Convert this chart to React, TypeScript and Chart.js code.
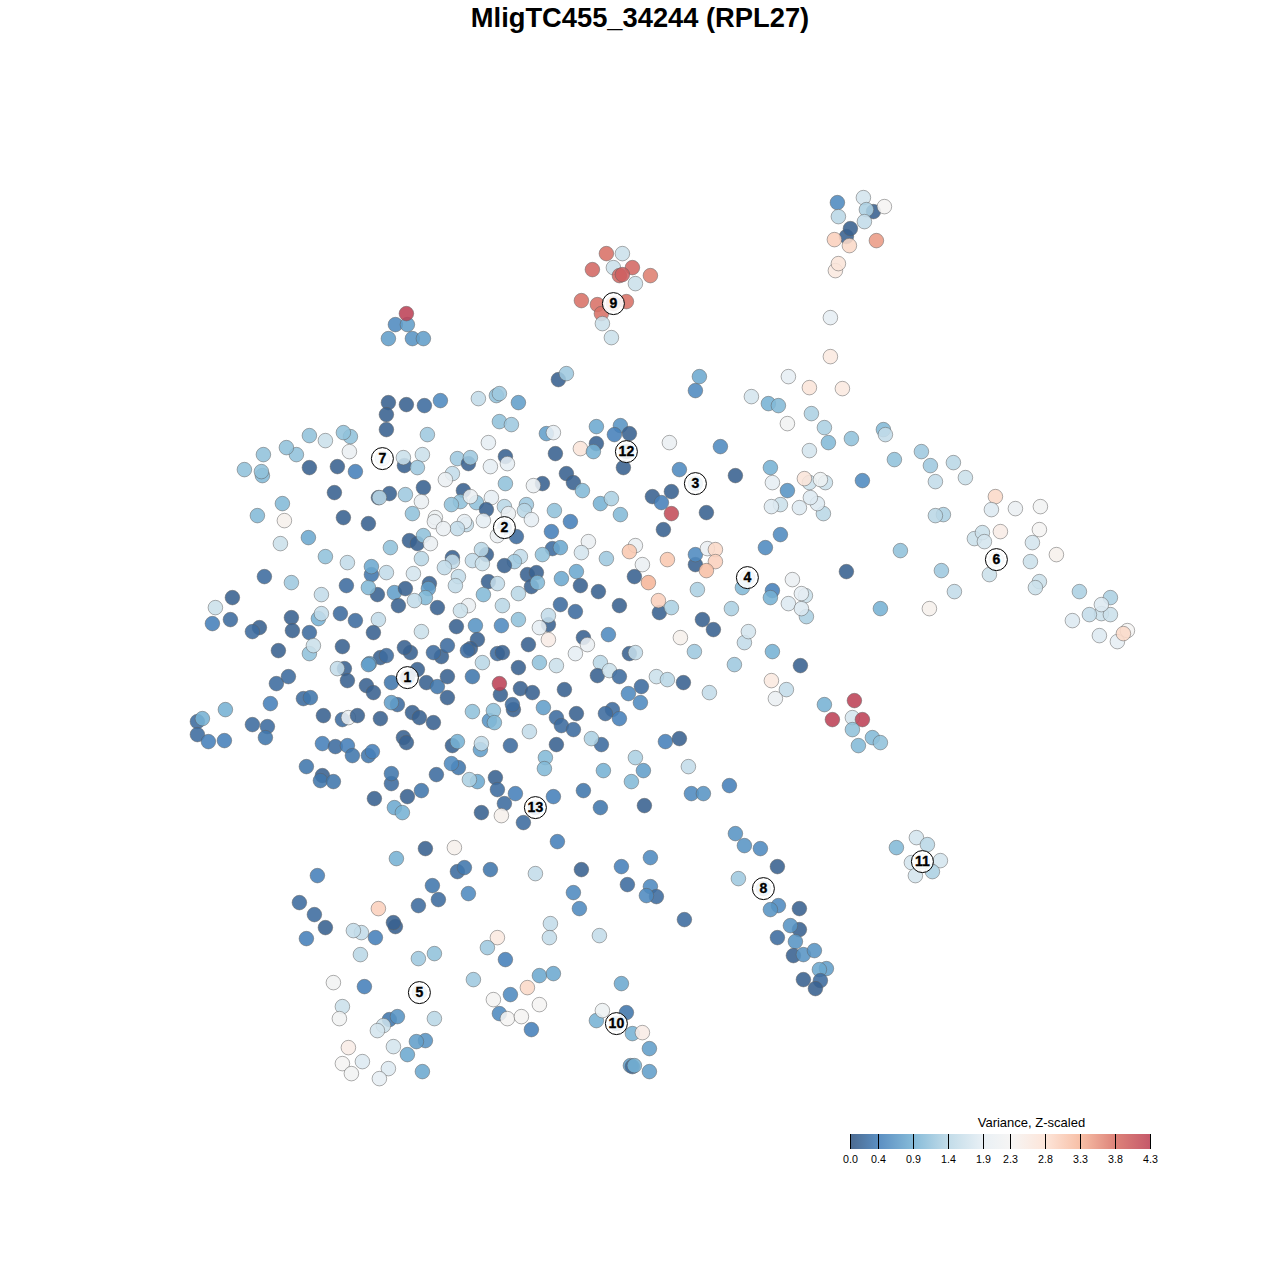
import React, { useEffect, useRef } from "react";
import { Chart, registerables } from "chart.js";

Chart.register(...registerables);

type P = [number, number, number];

const chartTitle = "MligTC455_34244 (RPL27)";
const legendTitle = "Variance, Z-scaled";
const legendTicks = [0.0, 0.4, 0.9, 1.4, 1.9, 2.3, 2.8, 3.3, 3.8, 4.3];
const legendColors = ["#4c6b91", "#5b8fc2", "#86bbd9", "#c2dce9", "#e9f0f5", "#f6f5f4", "#fde5d9", "#f7bfa6", "#dd8279", "#c5596a"];

const clusterLabels: P[] = [
  [407, 677, 1], [504, 527, 2], [695, 483, 3], [747, 577, 4], [419, 992, 5], [996, 559, 6], [382, 458, 7],
  [763, 888, 8], [613, 303, 9], [616, 1023, 10], [922, 861, 11], [626, 451, 12], [535, 807, 13],
];

const underLabels: P[] = [
  [407, 677, 0.1], [504, 527, 0.3], [695, 483, 0.8], [747, 577, 1.2], [419, 992, 1.0], [996, 559, 1.7], [382, 458, 1.4],
  [763, 888, 0.7], [613, 303, 3.8], [616, 1023, 0.6], [922, 861, 1.6], [626, 451, 0.2], [535, 807, 0.4],
];

const upperLeft: P[] = [
  [388,402,0.1],[406,404,0.1],[424,405,0.2],[440,400,0.5],[386,414,0.1],[386,429,0.1],[427,434,1.2],
  [350,436,1.1],[309,435,1.1],[325,440,1.6],[343,432,1.1],[349,451,2.0],[263,454,1.1],[296,454,1.1],[286,447,1.1],
  [244,469,1.1],[262,475,1.0],[261,471,1.1],[309,467,0.1],[337,466,0.1],[355,471,0.4],[404,465,0.1],[403,457,1.6],
  [422,454,1.6],[417,467,1.2],[334,492,0.1],[389,493,0.1],[378,497,0.1],[379,497,1.4],[405,494,1.2],[423,487,0.1],[421,501,2.0],
  [282,503,1.0],[257,515,1.0],[284,520,2.4],[343,517,0.1],[368,523,0.1],[412,513,1.1],[435,517,2.1],[434,521,2.0],
  [280,543,1.6],[308,537,0.8],[390,547,1.1],[409,540,0.1],[417,543,0.1],[423,535,1.1],[430,543,2.0],[421,558,1.4],
  [325,556,1.1],[347,562,1.5],[371,574,0.3],[371,566,0.8],[386,572,1.5],[413,573,1.7],[264,576,0.2],[291,582,1.2],
  [346,585,0.2],[377,594,0.1],[368,587,1.0],[394,592,0.7],[405,588,0.1],[429,583,0.1],[428,588,0.7],[425,597,1.0],[414,600,1.5],
  [398,605,0.1],[437,607,0.1],[232,597,0.1],[215,607,1.6],[212,623,0.4],[230,619,0.2],[259,627,0.1],[252,631,0.2],
  [291,617,0.1],[292,630,0.1],[340,613,0.2],[355,620,0.2],[378,619,1.5],[318,618,0.9],[321,594,1.5],[321,613,1.5],[309,632,0.2],
  [373,632,0.1],[421,631,1.6],[278,650,0.1],[309,653,1.1],[313,645,1.6],[342,646,0.1],[380,657,0.1],[386,655,0.2],[410,652,0.1],[404,647,0.1],
  [441,656,0.1],[433,652,0.2],[447,645,0.2],[369,663,0.7],
];

const upperMiddle: P[] = [
  [558,379,0.1],[566,373,1.2],[478,398,1.5],[496,395,1.1],[499,393,1.2],[518,402,0.7],[499,421,1.1],[511,424,1.2],[488,442,1.9],
  [546,433,0.7],[553,432,1.9],[555,453,0.1],[596,426,0.8],[620,425,0.6],[614,434,0.4],[629,433,0.1],[596,443,0.1],[580,448,2.7],[593,451,0.9],
  [623,467,0.1],[669,442,2.0],[695,390,0.5],[699,376,0.8],[720,446,0.5],[679,469,0.5],[457,458,1.2],[468,463,0.1],[470,457,1.2],
  [505,456,0.1],[507,463,1.9],[490,466,1.9],[452,473,1.5],[445,479,2.0],[505,483,1.1],[542,483,0.1],[533,485,2.0],[566,473,0.1],[573,482,0.1],[582,490,1.0],
  [463,490,0.1],[460,501,1.1],[451,504,1.1],[476,502,1.1],[470,496,2.0],[491,497,1.9],[486,509,0.1],[504,506,1.4],[508,513,2.0],[526,504,1.2],[524,510,1.4],
  [531,519,1.9],[554,510,1.1],[570,521,0.4],[600,503,0.9],[611,498,1.3],[620,514,1.0],[652,496,0.1],[671,491,0.1],[661,502,0.4],[671,513,4.2],[706,512,0.1],[663,529,0.1],
  [483,520,1.9],[466,524,1.5],[464,521,1.9],[457,528,1.5],[443,528,2.0],[497,535,2.0],[516,536,0.2],[551,531,0.4],[588,541,2.0],[581,552,1.7],[552,548,0.2],[560,547,0.8],[542,554,1.1],
  [520,556,1.5],[514,561,1.2],[504,565,0.1],[486,554,0.1],[481,549,1.4],[452,557,0.1],[452,561,1.5],[472,560,1.5],[482,563,1.6],[444,567,1.5],[458,576,1.5],[455,585,1.5],
  [488,581,0.1],[497,583,1.5],[483,594,1.0],[518,593,1.4],[527,574,0.1],[536,572,0.1],[531,586,0.1],[537,582,1.0],[561,578,0.8],[576,571,0.8],[580,585,0.1],[606,558,1.2],[598,591,0.1],
  [635,545,2.0],[629,551,3.1],[642,564,2.0],[667,559,3.1],[634,576,0.1],[648,582,3.3],[659,612,0.1],[658,600,3.0],[671,607,1.3],[695,564,0.1],[695,554,0.5],[707,548,2.0],[715,549,2.9],[715,561,3.0],[706,570,3.2],
  [697,589,1.3],[702,619,0.1],[713,629,0.1],[680,637,2.4],[694,651,1.2],[619,605,0.1],[560,604,0.2],[575,611,0.2],[502,605,1.4],[468,605,2.0],[460,610,1.6],
  [456,626,0.1],[475,625,0.6],[501,625,0.5],[518,619,1.1],[548,624,0.1],[548,615,1.5],[539,627,1.9],[548,639,2.5],[528,644,0.1],[477,639,0.1],[470,648,0.1],[467,650,0.2],[497,653,0.2],[502,652,0.1],
  [608,634,0.5],[583,637,0.1],[587,644,2.0],[575,653,1.9],[629,653,0.1],[635,652,1.5],
];

const lowerLeft: P[] = [
  [197,721,0.2],[202,718,0.9],[197,734,0.2],[208,741,0.4],[224,740,0.4],[225,709,0.9],[252,724,0.2],[267,726,0.2],[265,737,0.3],[270,703,0.4],[276,683,0.2],[288,676,0.2],
  [303,698,0.2],[310,697,0.3],[323,715,0.1],[342,719,0.2],[348,717,2.0],[357,715,0.1],[380,718,0.1],[344,668,0.1],[337,668,1.5],[347,680,0.1],[366,685,0.1],[373,692,0.1],[368,664,0.7],
  [391,682,0.3],[397,704,0.2],[391,702,0.7],[412,712,0.1],[419,717,0.1],[433,722,0.1],[417,669,0.1],[426,682,0.1],[437,686,0.3],[447,676,0.1],[447,697,0.1],
  [322,743,0.4],[335,746,0.2],[347,745,0.4],[352,755,0.3],[368,755,0.3],[372,751,0.4],[403,737,0.1],[406,742,0.1],[452,745,0.1],[457,741,0.9],
  [458,767,0.3],[451,763,0.5],[436,774,0.2],[391,783,0.2],[391,773,0.3],[306,766,0.3],[322,775,0.1],[320,780,0.3],[333,781,0.3],[421,790,0.3],[407,796,0.1],[374,798,0.1],[394,807,0.8],[402,812,0.9],
];

const lowerMiddle: P[] = [
  [518,667,0.1],[539,662,1.1],[556,665,1.6],[482,662,1.4],[472,676,0.3],[500,694,0.1],[499,683,4.3],[520,688,0.1],[532,692,0.1],[564,689,0.1],
  [600,662,1.4],[597,675,0.1],[609,670,1.6],[619,676,0.2],[656,676,1.6],[667,679,1.4],[683,682,0.1],[641,686,0.2],[628,693,0.5],[640,702,0.5],[709,692,1.5],
  [472,711,1.1],[489,720,0.6],[493,710,1.1],[494,722,1.0],[513,709,0.1],[512,704,0.2],[543,707,0.7],[556,717,0.2],[561,725,0.2],[576,713,0.1],[573,729,0.2],[612,709,0.2],[605,713,0.2],[619,718,0.4],
  [529,731,1.5],[601,744,0.2],[591,738,1.3],[556,744,0.1],[510,745,0.2],[480,749,0.7],[481,743,1.5],[665,741,0.4],[679,738,0.1],[545,757,1.0],[544,768,1.0],[635,757,1.3],[643,770,0.7],[631,781,1.0],[603,770,0.9],[688,766,1.5],
  [477,781,0.8],[469,779,1.3],[495,777,0.1],[497,789,0.2],[515,793,0.4],[504,803,0.2],[481,812,0.1],[501,815,2.4],[523,822,0.2],[553,796,0.4],[583,790,0.3],[600,807,0.3],[644,805,0.1],[691,793,0.5],[703,793,0.6],[729,785,0.4],[557,841,0.4],
];

const topClusters: P[] = [
  [395,324,0.5],[407,324,0.7],[406,313,4.3],[388,338,0.7],[412,338,0.6],[423,338,0.7],
  [606,253,3.8],[622,253,1.6],[592,269,3.9],[613,267,1.6],[632,267,3.9],[619,275,3.9],[622,274,4.0],[650,275,3.7],[635,283,1.6],[581,300,3.8],[597,304,3.8],[626,301,3.8],[601,313,3.8],[602,323,1.6],[611,337,1.6],
  [837,202,0.5],[863,197,1.7],[873,211,0.1],[866,209,1.3],[884,206,2.3],[838,216,1.4],[864,221,1.5],[846,236,0.1],[850,228,0.1],[834,239,3.0],[849,245,2.9],[876,240,3.5],[835,270,2.6],[838,263,2.7],[830,317,1.9],[830,356,2.6],
];

const rightArm: P[] = [
  [788,376,1.9],[809,387,2.7],[842,388,2.6],[751,396,1.7],[768,403,0.9],[778,405,1.0],[811,413,1.3],[787,423,2.2],[824,427,1.3],[828,442,1.0],[851,438,1.1],[883,429,1.0],[885,434,1.5],[809,450,1.7],
  [894,459,1.1],[921,451,1.2],[930,465,1.2],[953,462,1.4],[935,481,1.5],[965,477,1.6],[770,467,0.9],[735,475,0.1],[772,482,1.9],[809,482,1.6],[825,482,1.6],[804,478,2.7],[820,479,2.1],[862,480,0.5],[787,490,0.6],
  [823,513,1.4],[817,503,1.8],[810,497,1.8],[780,504,1.6],[771,506,1.8],[799,507,1.8],[943,514,1.3],[935,515,1.4],[780,534,0.5],[765,547,0.5],[900,550,1.1],[846,571,0.1],[941,570,1.2],
  [995,496,2.9],[991,509,1.8],[1015,508,2.0],[1040,506,2.2],[974,538,1.6],[982,532,1.6],[984,541,1.7],[1000,531,2.5],[1039,529,2.3],[1032,542,1.7],[1056,554,2.4],[1030,561,1.6],[989,574,1.6],[1039,581,1.6],[1035,587,1.6],
  [954,591,1.5],[929,608,2.4],[1079,591,1.3],[1110,597,1.3],[1101,613,1.6],[1089,614,1.5],[1110,614,1.6],[1101,604,1.8],[1072,620,1.8],[1099,635,1.8],[1127,630,2.3],[1117,641,1.9],[1123,633,2.9],
];

const midRight: P[] = [
  [742,587,1.0],[772,590,0.4],[770,597,0.9],[792,579,2.0],[806,616,1.3],[805,595,1.6],[801,593,1.9],[788,603,1.8],[801,608,1.8],[731,608,1.3],[880,608,0.9],
  [744,642,1.5],[748,631,1.7],[772,651,0.9],[734,664,1.2],[800,665,0.1],[771,680,2.6],[786,689,1.5],[775,698,2.0],[824,704,0.9],[854,700,4.3],[852,717,1.7],[832,719,4.3],[862,719,4.3],[852,729,1.1],[872,737,1.0],[880,742,1.1],[858,745,1.0],
];

const bottomLeft: P[] = [
  [425,848,0.1],[396,858,0.9],[454,847,2.4],[317,875,0.4],[457,871,0.2],[464,867,0.3],[490,869,0.3],[535,873,1.5],[432,885,0.3],[438,899,0.2],[468,893,0.5],[418,905,0.2],[299,902,0.2],[314,914,0.2],[325,927,0.1],[306,938,0.4],
  [378,908,3.0],[395,926,0.1],[393,922,0.1],[361,932,1.5],[353,930,1.5],[375,937,0.4],[360,954,1.4],[418,958,1.2],[434,953,1.1],[333,982,2.2],[364,986,0.4],[342,1006,1.6],[339,1018,2.2],[389,1019,0.3],[397,1016,0.6],[383,1025,1.6],[377,1030,1.7],[434,1018,1.4],
  [425,1040,0.6],[416,1041,0.7],[393,1046,1.7],[348,1047,2.5],[407,1054,0.8],[342,1063,2.3],[362,1061,1.8],[388,1068,1.8],[351,1073,2.2],[379,1078,1.9],[422,1071,0.8],
];

const bottomMiddle: P[] = [
  [550,923,1.5],[549,937,1.5],[497,937,2.6],[487,947,1.2],[505,959,0.4],[473,979,1.2],[539,975,0.8],[553,973,0.8],[527,987,2.9],[510,994,0.5],[493,999,2.3],[539,1004,2.3],[499,1013,0.5],[507,1018,2.3],[521,1016,2.3],[531,1029,0.4],
  [650,857,0.5],[621,866,0.4],[581,869,0.1],[627,884,0.2],[650,886,0.5],[656,896,0.2],[646,895,0.5],[573,892,0.5],[579,908,0.5],[684,919,0.2],[599,935,1.5],[621,983,0.8],[626,1012,0.3],[596,1020,0.9],[602,1010,2.1],[632,1033,0.9],[642,1032,2.5],[649,1048,0.7],[630,1065,0.7],[632,1066,0.2],[634,1065,0.9],[649,1071,0.7],
];

const lowerRight: P[] = [
  [735,833,0.6],[744,845,0.6],[760,848,0.5],[777,866,0.1],[738,878,1.2],[778,905,0.5],[770,909,0.6],[799,908,0.1],[799,929,0.1],[790,925,0.6],[777,937,0.2],[795,941,0.6],[793,955,0.1],[803,954,0.6],[814,950,0.6],[826,968,0.7],[819,969,0.8],[820,980,0.2],[803,979,0.1],[815,988,0.1],
  [896,847,1.0],[916,837,1.7],[927,844,1.4],[911,862,1.7],[940,860,1.7],[932,871,1.3],[915,875,1.7],
];

const points: P[] = [
  ...underLabels, ...upperLeft, ...upperMiddle, ...lowerLeft, ...lowerMiddle,
  ...topClusters, ...rightArm, ...midRight, ...bottomLeft, ...bottomMiddle, ...lowerRight,
];

const ALPHA = 0.88;

function hex(c: string): number[] {
  return [1, 3, 5].map((i) => parseInt(c.slice(i, i + 2), 16));
}

function shown(v: number): number[] {
  let i = 0;
  while (i < legendTicks.length - 2 && v > legendTicks[i + 1]) i++;
  const t = Math.max(0, Math.min(1, (v - legendTicks[i]) / (legendTicks[i + 1] - legendTicks[i])));
  const a = hex(legendColors[i]);
  const b = hex(legendColors[i + 1]);
  return a.map((x, k) => x + (b[k] - x) * t);
}

function fill(v: number): string {
  const c = shown(v).map((x) => Math.max(0, Math.round((x - 255 * (1 - ALPHA)) / ALPHA)));
  return `rgba(${c[0]},${c[1]},${c[2]},${ALPHA})`;
}

const overlay = {
  id: "overlay",
  beforeDraw(chart: any) {
    const { ctx, width, height } = chart;
    ctx.save();
    ctx.fillStyle = "#ffffff";
    ctx.fillRect(0, 0, width, height);
    ctx.restore();
  },
  afterDraw(chart: any) {
    const { ctx, scales } = chart;
    const px = (v: number) => Math.floor(scales.x.getPixelForValue(850.1 + (300 / 4.3) * v)) + 0.5;
    const py = (v: number) => scales.y.getPixelForValue(v);
    ctx.save();
    ctx.fillStyle = "#000000";
    ctx.strokeStyle = "#000000";
    ctx.lineWidth = 0.35;
    ctx.textAlign = "center";
    ctx.textBaseline = "middle";
    ctx.font = 'bold 14px "Liberation Sans"';
    clusterLabels.forEach(([x, y, n]) => {
      ctx.fillText(String(n), scales.x.getPixelForValue(x), py(y) + 0.5);
      ctx.strokeText(String(n), scales.x.getPixelForValue(x), py(y) + 0.5);
    });

    const x0 = px(0);
    const x1 = px(4.3);
    const g = ctx.createLinearGradient(x0, 0, x1, 0);
    legendTicks.forEach((t, i) => g.addColorStop(t / 4.3, legendColors[i]));
    ctx.fillStyle = g;
    ctx.fillRect(x0, py(1133.4), x1 - x0, py(1148.4) - py(1133.4));
    ctx.lineWidth = 1;
    legendTicks.forEach((t) => {
      ctx.beginPath();
      ctx.moveTo(px(t), py(1133.4));
      ctx.lineTo(px(t), py(1148.4));
      ctx.stroke();
    });
    ctx.fillStyle = "#000000";
    ctx.font = '10.67px "Liberation Sans"';
    legendTicks.forEach((t) => ctx.fillText(t.toFixed(1), px(t), py(1159.9)));
    ctx.font = '13px "Liberation Sans"';
    ctx.fillText(legendTitle, scales.x.getPixelForValue(1031), py(1122.9));
    ctx.restore();
  },
};

export default function App() {
  const ref = useRef<HTMLCanvasElement>(null);
  useEffect(() => {
    const canvas = ref.current!;
    canvas.getContext("2d", { alpha: false });
    const chart = new Chart(canvas, {
      type: "scatter",
      data: {
        datasets: [
          {
            data: points.map(([x, y]) => ({ x, y })),
            backgroundColor: points.map(([, , v]) => fill(v)),
            borderColor: "rgba(95,95,95,0.5)",
            borderWidth: 1,
            pointRadius: 7.3,
            pointHoverRadius: 7.3,
            order: 2,
          },
          {
            data: clusterLabels.map(([x, y]) => ({ x, y })),
            backgroundColor: "rgba(255,255,255,0.88)",
            borderColor: "#000000",
            borderWidth: 1,
            pointRadius: 11,
            pointHoverRadius: 11,
            order: 1,
          },
        ],
      },
      options: {
        animation: false,
        responsive: false,
        layout: { padding: 0, autoPadding: false },
        events: [],
        plugins: {
          legend: { display: false },
          tooltip: { enabled: false },
          title: {
            display: true,
            text: chartTitle,
            color: "#000000",
            padding: { top: 4, bottom: 0 },
            font: { family: '"Liberation Sans"', size: 27.3, weight: "bold", lineHeight: "30px" },
          },
        },
        scales: {
          x: { type: "linear", min: -0.4, max: 1279.6, display: false },
          y: { type: "linear", min: 33.4, max: 1279.4, reverse: true, display: false },
        },
      },
      plugins: [overlay],
    } as any);
    return () => chart.destroy();
  }, []);
  return (
    <canvas
      ref={ref}
      width={1280}
      height={1280}
      style={{ position: "absolute", left: 0, top: 0, display: "block", width: 1280, height: 1280 }}
    />
  );
}
